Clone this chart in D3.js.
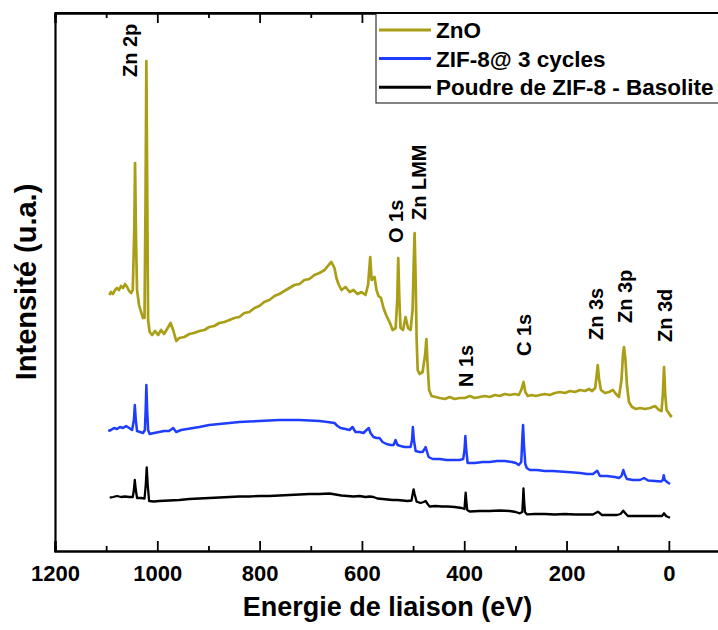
<!DOCTYPE html>
<html><head><meta charset="utf-8">
<script src="https://cdn.jsdelivr.net/npm/d3@7"></script>
<style>body{margin:0;background:#fff}svg{display:block}text{font-family:"Liberation Sans",Arial,sans-serif;font-weight:bold}</style>
</head><body>
<svg id="c" width="718" height="630"></svg>
<script>
// ---- data (binding energy in eV, intensity in arbitrary units) ----
const seriesNames = ["ZnO", "ZIF-8@ 3 cycles", "Poudre de ZIF-8 - Basolite"];
const seriesColors = ["#A99E16", "#1F3DFF", "#000000"];

const znoE = [1094,1090.5,1086.6,1082.7,1078.8,1074.9,1071,1067,1063,1059,1055,1051,1048,1045,1043.5,1041.6,1039.6,1035.7,1031.8,1027.9,1025,1023,1021.4,1019.6,1018,1015,1010.2,1004.4,998.5,992.6,986.8,980.9,974,969,963,957,947,937.5,928,918,908,898.5,888.6,878.8,869,859,849.5,839.7,830,820,810,800.6,791,781,771,761.5,751.7,741.9,732,722,712.5,702.7,692.9,683,673,665,659.6,653.7,649.8,645.9,640,632,624,616.5,608.6,600.8,593,588,583.8,581,575.4,571.5,567.6,562.7,557.8,551.9,546,540,534,531,529,526.8,524.5,519.6,514.7,509.8,504.9,501,498.6,497,495,493,491,487.3,481.4,476.5,474,471.6,468.7,463.8,456,448,438,428.5,418.7,409,399,389,379.5,369.8,360,350,340,330.6,320.8,311,301,293.4,288.5,284,280.6,275.8,268,260,252,242.5,232.7,222.9,213,203,193.3,183.5,173.7,164,156,150,144,141,139,136.7,132.8,125,117,109.3,103.4,97.5,92.6,89.7,87.7,84.8,81.9,78,72,64.2,56.4,46.6,36.8,27,19.2,14.3,11.8,9.4,7,4.5,1.6,-2.3,-5.7];
const znoI = [256,259,257,261,263,261,265,263,267,264,260,258,261,321,388,311,261,246,239,233,233,351,490,351,231,219,216,220,216,221,217,222,228,221,210,213,214,217,218,220,221,224,225,228,229,231,233,234,238,239,243,245,249,251,255,257,260,263,266,267,271,272,276,278,281,286,289,283,273,267,261,264,259,261,257,259,256,266,294,271,274,261,255,253,243,235,229,221,223,251,293,251,223,221,234,223,221,241,291,318,271,211,181,177,179,196,212,186,161,155,154,153,152,154,152,153,153,155,153,154,155,154,156,155,157,156,157,156,161,169,159,155,156,155,156,157,156,158,159,158,160,159,161,160,162,160,163,176,186,173,161,158,159,161,157,154,171,196,204,191,166,149,144,142,143,142,143,145,141,140,156,184,156,141,139,136,134];

const zifE = [1095.8,1090.5,1084.6,1078.7,1072.9,1067,1061,1055,1049.3,1045.8,1044,1042,1039.6,1033.7,1027.9,1024.3,1022.8,1021.4,1019.8,1018,1015,1006.4,996.5,986.8,977,969,963,953.4,941.6,929.9,918,898.5,878.8,859,839.7,820,800.6,781,761.5,742,722,702.7,683,667.3,653.6,647.8,641.9,632,624.3,618.4,612.5,604.6,596.9,591,586.6,583.2,577.4,571.5,565.6,559.7,552,544,538,534.3,530.4,524.5,516.6,508.8,504.9,502,500.4,498.4,495,487.3,481.4,477.5,475.5,472.6,469.6,461.8,448,434.4,420.7,409,402,399.5,397.8,396,393.3,379.5,363.9,350,336.5,320.8,307,299,293.4,288.5,286.6,285,283.2,280.6,277.7,271.8,258,242.5,226.8,213,199.3,185.5,173.7,160,148.3,140,134.7,121,105.3,97.5,92.6,89.1,85.8,81.9,70,56.4,48.5,40.7,27,15.3,11.8,10,8,3.5,-2.3];
const zifI = [120,121,123,122,124,123,125,123,121,131,146,131,120,119,118,121,141,166,141,121,117,118,119,120,120,123,119,121,122,123,124,126,127,128,129,129.5,130,130.5,131,131,131,130.5,130,129,128,125,123,122,121,124,119,119,118,121,123,118,114,113,113,109,107,106,106,111,106,105,104,104,104,111,124,111,100,99,99,102,104,99,94,92,92,91,91,91,92,101,115,101,88,88,89,89,90,90,89,88,86,89,111,126,106,87,83,81,81,80,80,79.5,79,78.5,78,77,77,80.3,75,75,74,73,75,81,76,72,71,71,73,70.5,70,69.5,71,75.7,71,69,67];

const zifPE = [1093,1086.6,1078.7,1071,1063,1055,1048,1045.8,1044,1042,1039.6,1031.8,1025,1022.6,1020.7,1018.7,1016,1006.4,996.5,977,957,937.5,918,898.5,878.8,859,839.7,820,800.6,781,761.5,742,722,702.7,683,663.4,651.7,640,628.3,616.5,604.7,593,585,577.4,569.6,559.7,550,540,530.4,520.6,510.8,503,500.8,499,497,493,485.3,479.4,475.5,471.6,467.7,456,444,432.3,418.7,405,399.5,398.3,397.2,396,394.2,389.3,369.8,350.2,330.6,311,299.3,291.4,286.5,285.2,284.2,283,281.2,277.7,262,242.5,222.9,203,183.5,164,148.5,138.7,130.8,115.2,101.4,94.6,89.1,83.8,80,64.2,46.6,27,13.3,9.4,5.5,1.6,-2.3];
const zifPI = [53.3,54,55,54,54.5,54,54,61,71,61,53,53,52.5,66,83.7,66,50,49.5,50,50.5,51,52,52.5,53,53.5,54,54.5,54.5,55,55,55.5,56,56.5,57,57,57.5,56.5,55.5,55,54.5,55,54,54.5,54,52.5,52,51.5,51,51,50.5,50,50.5,57,61.7,57,49.3,48,49,50,47,44.5,45,44.5,44.5,44,43,42,51,58.3,51,41,39.5,40,40,40.5,40,39,37.7,39,51,62.7,51,39,36.7,37,37,36.5,37,36.5,36.5,36.5,39.3,36,36,36,37,40.3,37,35,35,35,35,35,37.7,35,34,33.3];

const xTicks = [1200, 1000, 800, 600, 400, 200, 0];
const xMinorTicks = [1100, 900, 700, 500, 300, 100, -100];

const peakLabels = ["Zn 2p", "O 1s", "Zn LMM", "N 1s", "C 1s", "Zn 3s", "Zn 3p", "Zn 3d"];
const peakLabelE = [1039, 520.6, 474.5, 383.5, 268.5, 128.9, 72, -6.3];
const peakLabelI = [474, 308, 331, 164, 195, 211, 228, 209];

const xTitle = "Energie de liaison (eV)";
const yTitle = "Intensité (u.a.)";

// ---- chart ----
const m = {left: 55, top: 13, right: 720, bottom: 551};
const svg = d3.select("#c");
const x = d3.scaleLinear().domain([1200, -100]).range([m.left, m.right]);
const y = d3.scaleLinear().domain([0, 538]).range([m.bottom, m.top]);

const series = [
  {E: znoE, I: znoI, w: 2.7},
  {E: zifE, I: zifI, w: 2.5},
  {E: zifPE, I: zifPI, w: 2.3}
];
const line = d3.line().x(d => x(d[0])).y(d => y(d[1]));

[2, 1, 0].forEach(k => {
  const s = series[k];
  const pts = s.E.map((e, i) => [e, s.I[i]]);
  svg.append("path").attr("d", line(pts)).attr("fill", "none")
    .attr("stroke", seriesColors[k]).attr("stroke-width", s.w)
    .attr("stroke-linejoin", "round");
});

// axes
const gB = svg.append("g").attr("transform", `translate(0,${m.bottom})`)
  .call(d3.axisBottom(x).tickValues(xTicks).tickSize(-10).tickPadding(14).tickFormat(d3.format("d")));
svg.append("g").attr("transform", `translate(0,${m.bottom})`)
  .call(d3.axisBottom(x).tickValues(xMinorTicks).tickSize(-5).tickFormat(""));
svg.append("g").attr("transform", `translate(0,${m.top})`)
  .call(d3.axisTop(x).tickValues(xTicks).tickSize(-10).tickFormat(""));
svg.append("g").attr("transform", `translate(0,${m.top})`)
  .call(d3.axisTop(x).tickValues(xMinorTicks).tickSize(-5).tickFormat(""));
svg.append("g").attr("transform", `translate(${m.left},0)`)
  .call(d3.axisLeft(y).tickValues([]).tickSizeOuter(0));

svg.selectAll(".domain").attr("stroke", "#000").attr("stroke-width", 2.2);
svg.selectAll(".tick line").attr("stroke", "#000").attr("stroke-width", 1.8);
gB.selectAll(".tick text").attr("font-size", 22).attr("fill", "#000")
  .style("font-family", '"Liberation Sans",Arial,sans-serif').style("font-weight", "bold");

// titles
svg.append("text").attr("x", (m.left + m.right) / 2).attr("y", 616)
  .attr("text-anchor", "middle").attr("font-size", 27).text(xTitle);
svg.append("text").attr("transform", "translate(36,282) rotate(-90)")
  .attr("text-anchor", "middle").attr("font-size", 29).text(yTitle);

// peak labels
peakLabels.forEach((t, i) => {
  svg.append("text")
    .attr("transform", `translate(${x(peakLabelE[i])},${y(peakLabelI[i])}) rotate(-90)`)
    .attr("font-size", 20).text(t);
});

// legend
const lg = svg.append("g");
lg.append("rect").attr("x", 376).attr("y", m.top).attr("width", 360).attr("height", 90)
  .attr("fill", "#fff").attr("stroke", "#333").attr("stroke-width", 1.2);
svg.append("line").attr("x1", m.left).attr("x2", m.right).attr("y1", m.top).attr("y2", m.top)
  .attr("stroke", "#000").attr("stroke-width", 2.2);
seriesNames.forEach((n, i) => {
  const yy = 30 + i * 28.6;
  lg.append("line").attr("x1", 379).attr("x2", 431).attr("y1", yy).attr("y2", yy)
    .attr("stroke", seriesColors[i]).attr("stroke-width", 3);
  lg.append("text").attr("x", 436).attr("y", yy + 8).attr("font-size", 22.5).text(n);
});
</script>
</body></html>
